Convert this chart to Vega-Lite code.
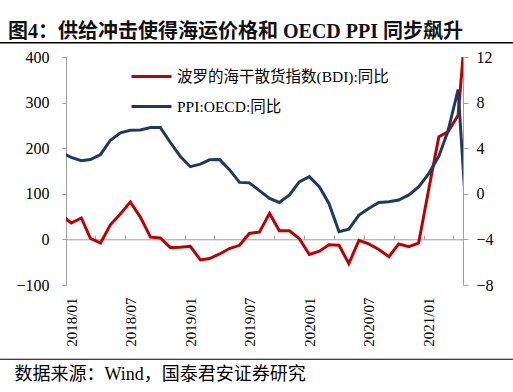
{
  "$schema": "https://vega.github.io/schema/vega-lite/v6.json",
  "width": 397,
  "height": 228,
  "autosize": {"type": "none"},
  "padding": {"left": 66, "top": 57, "right": 50, "bottom": 107},
  "background": "white",
  "title": {
    "text": "图4：供给冲击使得海运价格和 OECD PPI 同步飙升",
    "anchor": "start",
    "frame": "group",
    "dx": -58,
    "offset": 0,
    "font": "Liberation Serif, Noto Sans CJK SC",
    "fontSize": 20,
    "fontWeight": "bold",
    "color": "#111111"
  },
  "config": {
    "view": {"stroke": null},
    "title": {"fontSize": 20},
    "axis": {"grid": false, "labelFont": "Liberation Serif", "labelColor": "#000000", "domainColor": "#A0A0A0", "tickColor": "#A0A0A0"}
  },
  "data": {
    "values": [
      {"date": "2017-12-01", "bdi": 54, "ppi": 3.6},
      {"date": "2018-01-01", "bdi": 36, "ppi": 3.2},
      {"date": "2018-02-01", "bdi": 47, "ppi": 2.9},
      {"date": "2018-03-01", "bdi": 2, "ppi": 3.0},
      {"date": "2018-04-01", "bdi": -8, "ppi": 3.45},
      {"date": "2018-05-01", "bdi": 32, "ppi": 4.7},
      {"date": "2018-06-01", "bdi": 56, "ppi": 5.35},
      {"date": "2018-07-01", "bdi": 82, "ppi": 5.58},
      {"date": "2018-08-01", "bdi": 49, "ppi": 5.6},
      {"date": "2018-09-01", "bdi": 5, "ppi": 5.82},
      {"date": "2018-10-01", "bdi": 3, "ppi": 5.82},
      {"date": "2018-11-01", "bdi": -18, "ppi": 4.5},
      {"date": "2018-12-01", "bdi": -17, "ppi": 3.3},
      {"date": "2019-01-01", "bdi": -15, "ppi": 2.38},
      {"date": "2019-02-01", "bdi": -45, "ppi": 2.6},
      {"date": "2019-03-01", "bdi": -42, "ppi": 2.98},
      {"date": "2019-04-01", "bdi": -32, "ppi": 3.0},
      {"date": "2019-05-01", "bdi": -20, "ppi": 2.12},
      {"date": "2019-06-01", "bdi": -13, "ppi": 1.0},
      {"date": "2019-07-01", "bdi": 13, "ppi": 0.96},
      {"date": "2019-08-01", "bdi": 16, "ppi": 0.28},
      {"date": "2019-09-01", "bdi": 57, "ppi": -0.4},
      {"date": "2019-10-01", "bdi": 19, "ppi": -0.76},
      {"date": "2019-11-01", "bdi": 19, "ppi": -0.1},
      {"date": "2019-12-01", "bdi": 2, "ppi": 1.05},
      {"date": "2020-01-01", "bdi": -33, "ppi": 1.5},
      {"date": "2020-02-01", "bdi": -26, "ppi": 0.6},
      {"date": "2020-03-01", "bdi": -12, "ppi": -0.85},
      {"date": "2020-04-01", "bdi": -13, "ppi": -3.33},
      {"date": "2020-05-01", "bdi": -53, "ppi": -3.1},
      {"date": "2020-06-01", "bdi": -2, "ppi": -1.87},
      {"date": "2020-07-01", "bdi": -10, "ppi": -1.29},
      {"date": "2020-08-01", "bdi": -22, "ppi": -0.77},
      {"date": "2020-09-01", "bdi": -38, "ppi": -0.7},
      {"date": "2020-10-01", "bdi": -10, "ppi": -0.55},
      {"date": "2020-11-01", "bdi": -16, "ppi": -0.1},
      {"date": "2020-12-01", "bdi": -8, "ppi": 0.6},
      {"date": "2021-01-01", "bdi": 110, "ppi": 1.77},
      {"date": "2021-02-01", "bdi": 225, "ppi": 3.3},
      {"date": "2021-03-01", "bdi": 236, "ppi": 5.5},
      {"date": "2021-04-01", "bdi": 272, "ppi": 9.15},
      {"date": "2021-05-01", "bdi": 528, "ppi": -4.2}
    ]
  },
  "layer": [
    {
      "layer": [
        {
          "data": {"values": [{"line": "top"}]},
          "mark": {"type": "rule", "clip": false, "color": "#000000", "strokeWidth": 1.5},
          "encoding": {
            "x": {"datum": {"year": 2017, "month": 3, "date": 1, "utc": true}, "type": "temporal"},
            "x2": {"datum": {"year": 2021, "month": 12, "date": 1, "utc": true}},
            "y": {"datum": 431, "type": "quantitative"}
          }
        },
        {
          "data": {"values": [{"line": "bottom"}]},
          "mark": {"type": "rule", "clip": false, "color": "#000000", "strokeWidth": 1.2},
          "encoding": {
            "x": {"datum": {"year": 2017, "month": 3, "date": 1, "utc": true}, "type": "temporal"},
            "x2": {"datum": {"year": 2021, "month": 12, "date": 1, "utc": true}},
            "y": {"datum": -262.8, "type": "quantitative"}
          }
        },
        {
          "mark": {"type": "line", "strokeWidth": 3, "clip": true},
          "encoding": {
            "x": {
              "field": "date",
              "type": "temporal",
              "scale": {"type": "utc", "domain": [{"year": 2017, "month": 12, "date": 16, "utc": true}, {"year": 2021, "month": 4, "date": 16, "utc": true}]},
              "axis": {
                "orient": "bottom",
                "domain": false,
                "ticks": false,
                "values": [
                  {"year": 2018, "month": 1, "date": 1, "utc": true},
                  {"year": 2018, "month": 7, "date": 1, "utc": true},
                  {"year": 2019, "month": 1, "date": 1, "utc": true},
                  {"year": 2019, "month": 7, "date": 1, "utc": true},
                  {"year": 2020, "month": 1, "date": 1, "utc": true},
                  {"year": 2020, "month": 7, "date": 1, "utc": true},
                  {"year": 2021, "month": 1, "date": 1, "utc": true}
                ],
                "labelExpr": "utcFormat(datum.value, '%Y/%m')",
                "labelAngle": 270,
                "labelAlign": "right",
                "labelBaseline": "middle",
                "labelPadding": 12,
                "labelFontSize": 15,
                "title": "数据来源：Wind，国泰君安证券研究",
                "titleFont": "Liberation Serif, Noto Sans CJK SC",
                "titleFontSize": 18,
                "titleFontWeight": "normal",
                "titleColor": "#000000",
                "titleAlign": "left",
                "titleBaseline": "middle",
                "titleX": -52,
                "titleY": 89
              }
            },
            "y": {
              "field": "bdi",
              "type": "quantitative",
              "scale": {"domain": [-100, 400]},
              "axis": {
                "orient": "left",
                "values": [-100, 0, 100, 200, 300, 400],
                "tickSize": 4,
                "labelPadding": 13,
                "labelFontSize": 16,
                "title": null
              }
            },
            "color": {
              "datum": "波罗的海干散货指数(BDI):同比",
              "type": "nominal",
              "scale": {"domain": ["波罗的海干散货指数(BDI):同比", "PPI:OECD:同比"], "range": ["#C00000", "#1F3864"]},
              "legend": {
                "orient": "none",
                "legendX": 64,
                "legendY": -2,
                "title": null,
                "padding": 0,
                "symbolType": "stroke",
                "symbolSize": 1600,
                "symbolStrokeWidth": 3,
                "labelOffset": 4,
                "labelFont": "Liberation Serif, Noto Sans CJK SC",
                "labelFontSize": 15.5,
                "labelColor": "#000000",
                "labelLimit": 400,
                "rowPadding": -3
              }
            }
          }
        }
      ]
    },
    {
      "mark": {"type": "line", "strokeWidth": 3, "clip": true},
      "encoding": {
        "x": {
          "field": "date",
          "type": "temporal",
          "axis": {
            "orient": "bottom",
            "offset": -45.7,
            "domain": true,
            "ticks": true,
            "tickSize": -4,
            "labels": false,
            "title": null,
            "values": [
              {"year": 2018, "month": 3, "date": 16, "utc": true},
              {"year": 2018, "month": 6, "date": 16, "utc": true},
              {"year": 2018, "month": 9, "date": 16, "utc": true},
              {"year": 2018, "month": 12, "date": 16, "utc": true},
              {"year": 2019, "month": 3, "date": 16, "utc": true},
              {"year": 2019, "month": 6, "date": 16, "utc": true},
              {"year": 2019, "month": 9, "date": 16, "utc": true},
              {"year": 2019, "month": 12, "date": 16, "utc": true},
              {"year": 2020, "month": 3, "date": 16, "utc": true},
              {"year": 2020, "month": 6, "date": 16, "utc": true},
              {"year": 2020, "month": 9, "date": 16, "utc": true},
              {"year": 2020, "month": 12, "date": 16, "utc": true},
              {"year": 2021, "month": 3, "date": 16, "utc": true}
            ]
          }
        },
        "y": {
          "field": "ppi",
          "type": "quantitative",
          "scale": {"domain": [-8, 12]},
          "axis": {
            "orient": "right",
            "values": [-8, -4, 0, 4, 8, 12],
            "tickSize": 5,
            "labelPadding": 8,
            "labelFontSize": 16,
            "title": null
          }
        },
        "color": {"datum": "PPI:OECD:同比", "type": "nominal"}
      }
    }
  ],
  "resolve": {"scale": {"y": "independent"}, "axis": {"x": "independent"}}
}
